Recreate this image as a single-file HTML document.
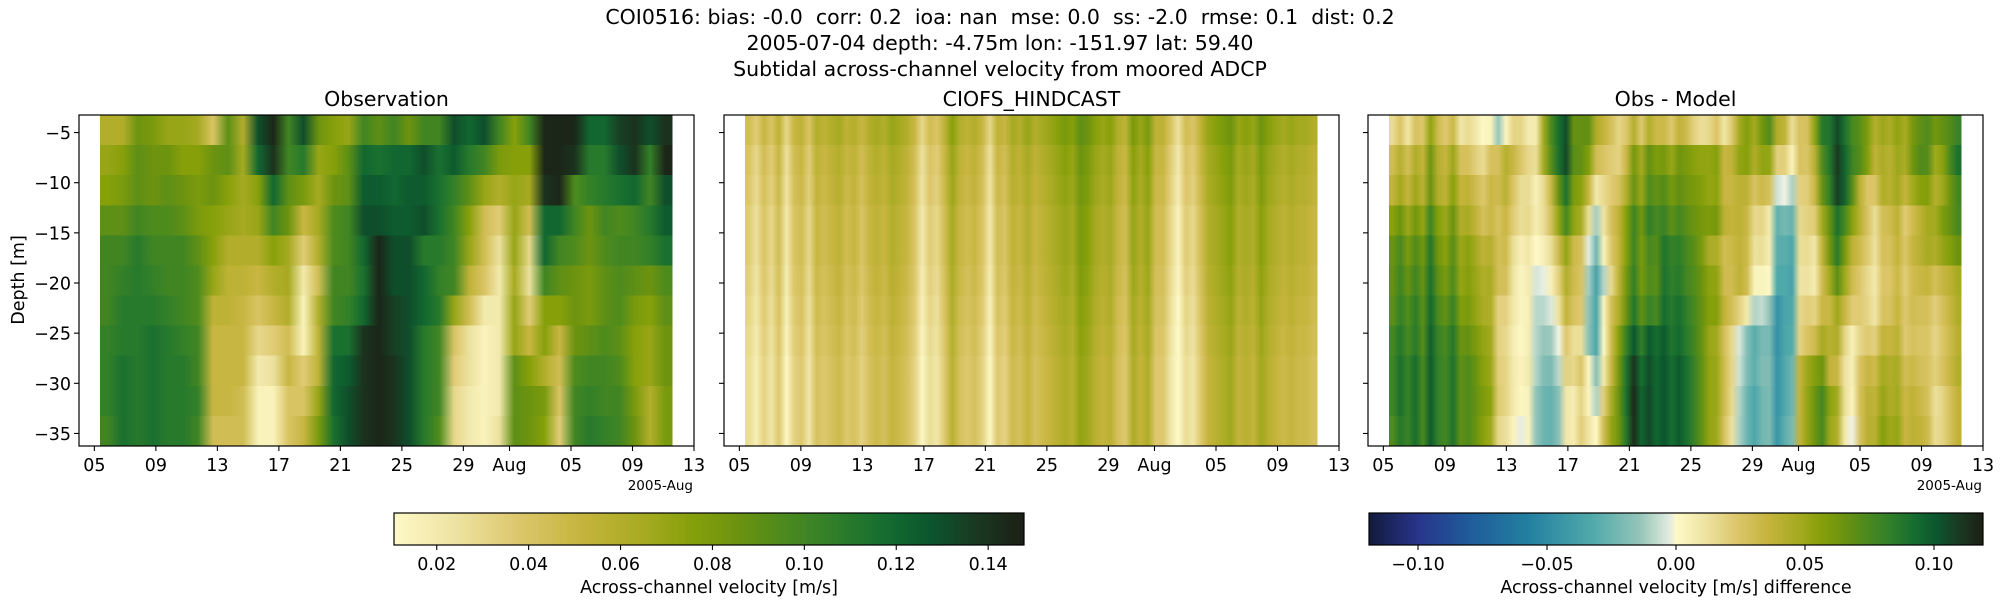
<!DOCTYPE html>
<html><head><meta charset="utf-8">
<style>
html,body{margin:0;padding:0;background:#fff;}
svg{display:block;font-family:"DejaVu Sans","Liberation Sans",sans-serif;}
</style></head>
<body>
<svg id="fig" width="2000" height="600" viewBox="0 0 2000 600" xmlns="http://www.w3.org/2000/svg">
<defs id="defs"></defs>
<text x="1000" y="24" font-size="20.5" text-anchor="middle" fill="#000" style="white-space:pre" xml:space="preserve">COI0516: bias: -0.0  corr: 0.2  ioa: nan  mse: 0.0  ss: -2.0  rmse: 0.1  dist: 0.2</text>
<text x="1000" y="50" font-size="20.5" text-anchor="middle" fill="#000">2005-07-04 depth: -4.75m lon: -151.97 lat: 59.40</text>
<text x="1000" y="76" font-size="20.5" text-anchor="middle" fill="#000">Subtidal across-channel velocity from moored ADCP</text>
<g id="panels"></g>
</svg>
<script>
// ---------- data ----------
const depthRows = [-4.75,-7.75,-10.75,-13.75,-16.75,-19.75,-22.75,-25.75,-28.75,-31.75,-34.75];
const yTicks = [-5,-10,-15,-20,-25,-30,-35];
const xTickDays = [1,5,9,13,17,21,25,28,32,36,40]; // days since 2005-07-04
const xTickLabels = ["05","09","13","17","21","25","29","Aug","05","09","13"];
const cb1Ticks = [0.02,0.04,0.06,0.08,0.10,0.12,0.14];
const cb1Labels = ["0.02","0.04","0.06","0.08","0.10","0.12","0.14"];
const cb2Ticks = [-0.10,-0.05,0.00,0.05,0.10];
const cb2Labels = ["\u22120.10","\u22120.05","0.00","0.05","0.10"];
const obsT0 = 1.37, obsDt = 0.98;
const modT0 = 1.37, modDt = 0.49;
const obsRow0 = [0.06,0.06,0.085,0.08,0.07,0.07,0.065,0.04,0.09,0.06,0.13,0.145,0.1,0.13,0.085,0.075,0.07,0.1,0.09,0.1,0.085,0.1,0.1,0.13,0.12,0.13,0.1,0.075,0.1,0.145,0.145,0.145,0.12,0.12,0.135,0.14,0.13,0.14];
const obsRow1 = [0.07,0.075,0.09,0.085,0.085,0.075,0.075,0.085,0.09,0.065,0.12,0.14,0.1,0.11,0.07,0.075,0.09,0.12,0.115,0.12,0.12,0.13,0.115,0.125,0.11,0.1,0.08,0.075,0.075,0.145,0.145,0.14,0.11,0.11,0.13,0.14,0.105,0.145];
const obsRow2 = [0.075,0.08,0.09,0.085,0.09,0.085,0.08,0.085,0.075,0.065,0.075,0.12,0.09,0.08,0.065,0.085,0.09,0.125,0.125,0.12,0.125,0.125,0.115,0.105,0.09,0.07,0.06,0.07,0.065,0.14,0.145,0.095,0.105,0.11,0.115,0.12,0.1,0.13];
const obsRow3 = [0.09,0.09,0.1,0.095,0.095,0.09,0.08,0.075,0.07,0.065,0.07,0.1,0.085,0.05,0.065,0.095,0.1,0.13,0.13,0.125,0.125,0.13,0.115,0.1,0.075,0.045,0.035,0.07,0.045,0.12,0.12,0.1,0.085,0.1,0.095,0.1,0.11,0.125];
const obsRow4 = [0.1,0.1,0.11,0.1,0.1,0.1,0.09,0.075,0.06,0.06,0.06,0.075,0.065,0.035,0.06,0.095,0.1,0.12,0.145,0.13,0.13,0.11,0.11,0.1,0.07,0.045,0.025,0.07,0.03,0.12,0.1,0.095,0.085,0.095,0.1,0.1,0.105,0.115];
const obsRow5 = [0.1,0.105,0.11,0.105,0.1,0.1,0.095,0.07,0.055,0.055,0.05,0.06,0.065,0.02,0.045,0.1,0.1,0.115,0.145,0.13,0.13,0.12,0.105,0.1,0.055,0.04,0.02,0.065,0.025,0.1,0.09,0.085,0.08,0.09,0.095,0.09,0.085,0.095];
const obsRow6 = [0.1,0.11,0.11,0.11,0.105,0.1,0.095,0.055,0.055,0.05,0.04,0.05,0.06,0.015,0.06,0.1,0.105,0.12,0.145,0.135,0.13,0.12,0.11,0.07,0.045,0.02,0.02,0.07,0.035,0.075,0.075,0.085,0.08,0.09,0.095,0.08,0.075,0.09];
const obsRow7 = [0.105,0.11,0.11,0.115,0.11,0.105,0.1,0.05,0.05,0.05,0.03,0.035,0.045,0.015,0.055,0.115,0.115,0.14,0.145,0.135,0.13,0.11,0.1,0.04,0.025,0.015,0.02,0.07,0.05,0.075,0.05,0.085,0.09,0.095,0.09,0.075,0.07,0.085];
const obsRow8 = [0.105,0.115,0.11,0.115,0.11,0.11,0.1,0.05,0.05,0.05,0.02,0.025,0.05,0.035,0.055,0.12,0.125,0.14,0.145,0.14,0.13,0.11,0.1,0.035,0.025,0.015,0.02,0.09,0.075,0.06,0.045,0.095,0.1,0.1,0.095,0.075,0.07,0.085];
const obsRow9 = [0.105,0.115,0.11,0.115,0.11,0.11,0.105,0.05,0.05,0.045,0.015,0.015,0.04,0.04,0.07,0.12,0.13,0.14,0.145,0.14,0.13,0.11,0.1,0.03,0.02,0.015,0.02,0.09,0.085,0.08,0.04,0.1,0.105,0.1,0.1,0.08,0.06,0.08];
const obsRow10 = [0.1,0.115,0.11,0.115,0.11,0.11,0.1,0.045,0.045,0.045,0.015,0.015,0.04,0.05,0.08,0.115,0.13,0.14,0.145,0.14,0.13,0.11,0.095,0.03,0.02,0.015,0.025,0.09,0.085,0.075,0.035,0.1,0.11,0.105,0.1,0.085,0.06,0.08];
const obsRows = [obsRow0,obsRow1,obsRow2,obsRow3,obsRow4,obsRow5,obsRow6,obsRow7,obsRow8,obsRow9,obsRow10];
const modelSeries = [0.035,0.025,0.04,0.03,0.045,0.02,0.04,0.045,0.03,0.05,0.045,0.05,0.055,0.045,0.05,0.04,0.05,0.055,0.05,0.06,0.055,0.05,0.04,0.02,0.035,0.03,0.045,0.065,0.05,0.045,0.05,0.04,0.02,0.045,0.04,0.055,0.05,0.06,0.05,0.055,0.06,0.065,0.07,0.065,0.08,0.075,0.065,0.06,0.065,0.05,0.045,0.07,0.06,0.07,0.045,0.045,0.03,0.015,0.035,0.03,0.045,0.06,0.065,0.07,0.075,0.06,0.065,0.06,0.075,0.065,0.06,0.055,0.06,0.055,0.055,0.05];
const modelRowOffset = [0.01,0.005,0.003,0,0,-0.002,-0.004,-0.006,-0.008,-0.008,-0.008];

// ---------- geometry ----------
const NS = "http://www.w3.org/2000/svg";
const PW = 615, PTOP = 115, PBOT = 446;
const panelLefts = [79, 724, 1368];
const XDAYS = 40, DTOP = -3.25, DBOT = -36.25;
const V1MIN = 0.0107, V1MAX = 0.1478, V2MAX = 0.119;

function xScale(left, day){ return left + day * PW / XDAYS; }
function yScale(d){ return PTOP + (DTOP - d) * (PBOT - PTOP) / (DTOP - DBOT); }
function rowTop(i){ return yScale(depthRows[i] + 1.5); }
function rowBot(i){ return yScale(depthRows[i] - 1.5); }

const speedStops = [[0,"#fef9c8"],[0.1,"#ede2a0"],[0.2,"#dcc66a"],[0.3,"#c5b43c"],[0.4,"#a5aa20"],[0.47,"#87a00a"],[0.55,"#6a9210"],[0.62,"#4c8a1e"],[0.7,"#2f7e2a"],[0.78,"#146c30"],[0.85,"#0b562e"],[0.92,"#1a3a22"],[1,"#1c1f14"]];
const deltaLow = [[0,"#121b3c"],[0.08,"#28348a"],[0.16,"#1f5a9a"],[0.26,"#2380a0"],[0.36,"#4ea8aa"],[0.44,"#93c4b8"],[0.5,"#f4f4e8"]];
function hex(c){return [parseInt(c.slice(1,3),16),parseInt(c.slice(3,5),16),parseInt(c.slice(5,7),16)];}
function interp(stops,t){
  t=Math.max(0,Math.min(1,t));
  for(let i=1;i<stops.length;i++){
    if(t<=stops[i][0]){
      const a=hex(stops[i-1][1]),b=hex(stops[i][1]);
      const f=(t-stops[i-1][0])/(stops[i][0]-stops[i-1][0]);
      return "rgb("+a.map((v,k)=>Math.round(v+(b[k]-v)*f)).join(",")+")";
    }
  }
  return stops[stops.length-1][1];
}
function speed(v){ return interp(speedStops,(v-V1MIN)/(V1MAX-V1MIN)); }
function delta(v){
  const t=(v+V2MAX)/(2*V2MAX);
  if(t<0.5) return interp(deltaLow,t);
  return interp(speedStops,(t-0.5)*2);
}
function obsAt(r,day){
  const row=obsRows[r];
  let f=(day-(obsT0+obsDt*0.5))/obsDt;
  if(f<=0) return row[0];
  if(f>=row.length-1) return row[row.length-1];
  const i=Math.floor(f); return row[i]+(row[i+1]-row[i])*(f-i);
}
function modelAt(r,k){ return modelSeries[k]+modelRowOffset[r]; }

const defs=document.getElementById('defs');
const root=document.getElementById('panels');
function el(tag,attrs,parent){const e=document.createElementNS(NS,tag);for(const k in attrs)e.setAttribute(k,attrs[k]);(parent||root).appendChild(e);return e;}
let gid=0;
function gradient(stops){
  const id="g"+(gid++);
  const g=el("linearGradient",{id:id,gradientUnits:"userSpaceOnUse",x1:stops[0][0],x2:stops[stops.length-1][0],y1:0,y2:0},defs);
  const x0=stops[0][0],x1=stops[stops.length-1][0];
  stops.forEach(s=>el("stop",{offset:((s[0]-x0)/(x1-x0)).toFixed(5),"stop-color":s[1]},g));
  return id;
}

function drawPanel(p,title,kind){
  const left=panelLefts[p];
  const g=el("g",{});
  
  
  const t=el("text",{x:left+PW/2,y:106,"font-size":20.5,"text-anchor":"middle"},g);
  t.textContent=title;
  
  
  const hm=el("g",{},g);
  
  
  for(let r=0;r<depthRows.length;r++){
    let stops=[];
    if(kind==="obs"){
      for(let i=0;i<obsRows[r].length;i++){const d=obsT0+obsDt*(i+0.5);stops.push([xScale(left,d),speed(obsRows[r][i])]);}
    } else if(kind==="model"){
      for(let k=0;k<modelSeries.length;k++){const d=modT0+modDt*(k+0.5);stops.push([xScale(left,d),speed(modelAt(r,k))]);}
    } else {
      for(let k=0;k<modelSeries.length;k++){const d=modT0+modDt*(k+0.5);stops.push([xScale(left,d),delta(obsAt(r,d)-modelAt(r,k))]);}
    }
    const id=gradient(stops);
    const x0=xScale(left,obsT0), x1=xScale(left,obsT0+obsDt*obsRows[r].length);
    const y0=Math.max(PTOP,rowTop(r)), y1=Math.min(PBOT,rowBot(r)+(r<depthRows.length-1?0.8:0));
    const rc=el("rect",{x:x0,y:y0,width:x1-x0,height:y1-y0,fill:"url(#"+id+")","shape-rendering":"crispEdges"},hm);
    
    
  }
  const fr=el("rect",{x:left,y:PTOP,width:PW,height:PBOT-PTOP,fill:"none",stroke:"#000","stroke-width":1.2},g);
  
  
  yTicks.forEach(v=>{
    const y=yScale(v);
    const tk=el("line",{x1:left-5,x2:left,y1:y,y2:y,stroke:"#000","stroke-width":1.1},g);
    
    
    if(p===0){
      const tl=el("text",{x:left-8,y:y+6.5,"font-size":17.5,"text-anchor":"end"},g);
      tl.textContent=String(v).replace("-","\u2212");
      
      
    }
  });
  xTickDays.forEach((d,i)=>{
    const x=xScale(left,d);
    const tk=el("line",{x1:x,x2:x,y1:PBOT,y2:PBOT+5,stroke:"#000","stroke-width":1.1},g);
    
    
    const tl=el("text",{x:x,y:471,"font-size":17.5,"text-anchor":"middle"},g);
    tl.textContent=xTickLabels[i];
    
    
  });
  if(p!==1){
    const off=el("text",{x:left+PW-1,y:490,"font-size":13.5,"text-anchor":"end"},g);
    off.textContent="2005-Aug";
    
    
  }
}
drawPanel(0,"Observation","obs");
drawPanel(1,"CIOFS_HINDCAST","model");
drawPanel(2,"Obs - Model","diff");

const yl=el("text",{x:0,y:0,"font-size":17.5,"text-anchor":"middle",transform:"translate(24,280) rotate(-90)"});
yl.textContent="Depth [m]";



function colorbar(x0,x1,vmin,vmax,fn,ticks,labels,label,name){
  const g=el("g",{});
  
  
  const stops=[];
  for(let i=0;i<=120;i++){const v=vmin+(vmax-vmin)*i/120;stops.push([x0+(x1-x0)*i/120,fn(v)]);}
  const id=gradient(stops);
  const r=el("rect",{x:x0,y:513,width:x1-x0,height:32,fill:"url(#"+id+")",stroke:"#000","stroke-width":1.2},g);
  
  
  ticks.forEach((v,i)=>{
    const x=x0+(v-vmin)/(vmax-vmin)*(x1-x0);
    if(x<x0-1||x>x1+1) return;
    const tk=el("line",{x1:x,x2:x,y1:545,y2:550,stroke:"#000","stroke-width":1.1},g);
    
    
    const tl=el("text",{x:x,y:570,"font-size":17.5,"text-anchor":"middle"},g);
    tl.textContent=labels[i];
    
    
  });
  const lt=el("text",{x:(x0+x1)/2,y:593,"font-size":17.5,"text-anchor":"middle"},g);
  lt.textContent=label;
  
  
}
colorbar(394,1024,V1MIN,V1MAX,speed,cb1Ticks,cb1Labels,"Across-channel velocity [m/s]","colorbar-velocity");
colorbar(1369,1983,-V2MAX,V2MAX,delta,cb2Ticks,cb2Labels,"Across-channel velocity [m/s] difference","colorbar-difference");
</script>
</body></html>
